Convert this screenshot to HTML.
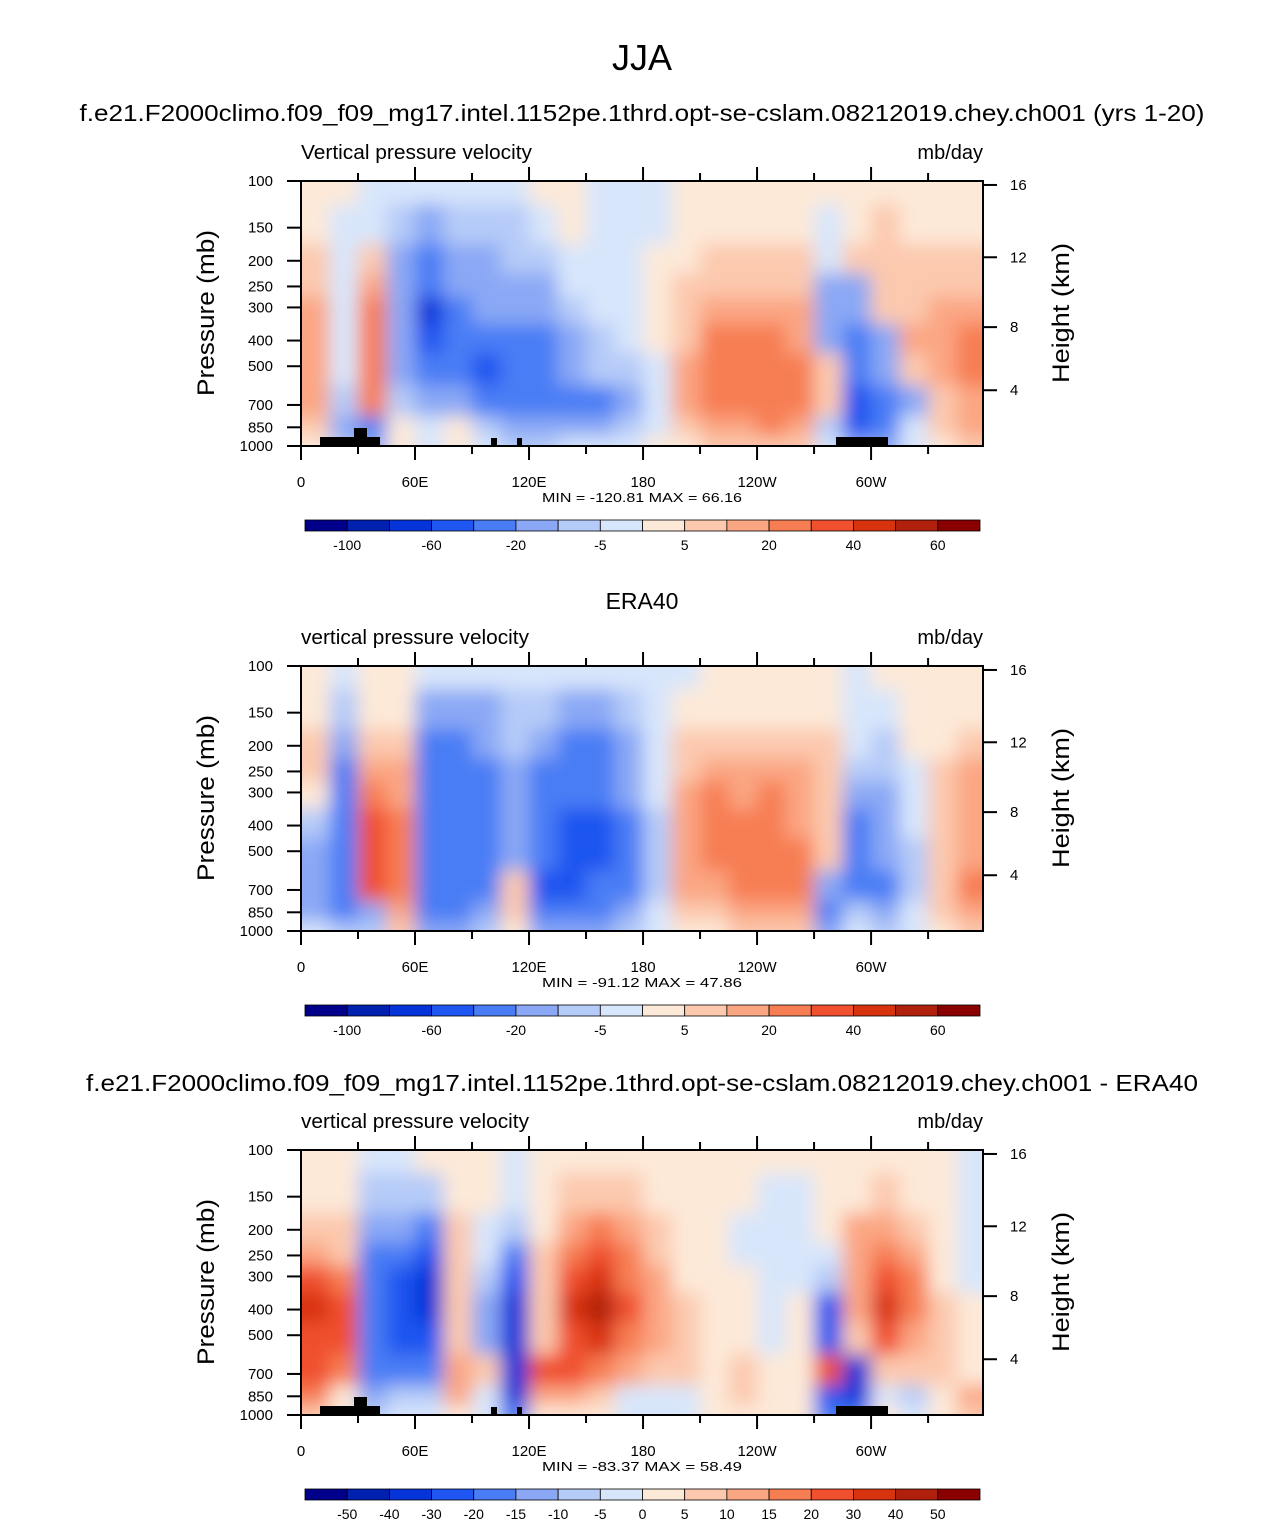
<!DOCTYPE html>
<html><head><meta charset="utf-8">
<style>
body{margin:0;background:#fff;}
svg text{font-family:"Liberation Sans",Arial,sans-serif;fill:#000;}
</style></head>
<body>
<svg id="fig" width="1285" height="1525" viewBox="0 0 1285 1525" xmlns="http://www.w3.org/2000/svg">
<defs>
<filter id="soft" x="-5%" y="-5%" width="110%" height="110%"><feGaussianBlur stdDeviation="9"/></filter>
</defs>
<text x="642" y="70" font-size="36" text-anchor="middle">JJA</text>
</svg>
<script>
const levels=[100,150,200,250,300,400,500,700,850,1000];
const lons=[0,15,30,45,60,75,90,105,120,135,150,165,180,195,210,225,240,255,270,285,300,315,330,345];
const lonTicks=[0,60,120,180,240,300];
const lonTickLabels=["0","60E","120E","180","120W","60W"];
const heightKm=[16,12,8,4];
const heightP=[103.5,194,356,616];
const colors=["#00008a","#0020b0","#0535d8","#1f55f0","#4a7df5","#8aa8f5","#b5cbf8","#d8e6fb","#fde9d8","#fcc9ae","#fba683","#f77e53","#f0502e","#d8330f","#b0200c","#8a0000"];
const bounds1=[-100,-80,-60,-40,-20,-10,-5,0,5,10,20,30,40,50,60];
const bounds3=[-50,-40,-30,-20,-15,-10,-5,0,5,10,15,20,30,40,50];
const cbLabels1=["-100","","-60","","-20","","-5","","5","","20","","40","","60"];
const cbLabels3=["-50","-40","-30","-20","-15","-10","-5","0","5","10","15","20","30","40","50"];

const model=[
[5,5,-5,-5,-5,-5,-5,-5,0,0,-5,-5,-5,5,5,5,5,5,5,5,5,5,5,0],
[5,-5,-5,-10,-20,-10,-10,-10,-5,0,-5,-5,-5,5,5,5,5,5,-5,5,10,5,5,5],
[10,-5,10,-20,-40,-20,-20,-10,-10,-5,-5,-5,0,5,10,10,10,10,-5,10,10,10,10,10],
[10,-5,20,-20,-40,-20,-20,-20,-20,-5,-5,-5,0,10,10,10,10,10,-20,-20,10,10,10,10],
[20,-5,30,-20,-80,-40,-20,-20,-20,-10,-5,-5,0,10,20,20,20,20,-20,-20,10,10,20,20],
[20,-5,30,-20,-60,-40,-40,-40,-40,-20,-10,-5,0,10,30,30,30,20,-20,-40,-20,20,20,30],
[20,-5,30,-20,-40,-40,-60,-40,-40,-20,-10,-10,-5,20,30,30,30,30,10,-40,-20,10,20,30],
[20,-10,30,-10,-20,-20,-40,-40,-40,-40,-40,-20,-5,20,30,30,30,30,10,-60,-40,-20,10,20],
[10,-20,-30,5,-5,5,-10,-20,-20,-20,-20,-10,-5,10,20,20,30,20,-10,-60,-40,-5,10,20],
[5,-10,-20,5,-5,5,-5,-10,-10,-5,-5,-5,0,5,10,10,10,10,-5,-20,-20,-5,5,10]];
const era=[
[5,-5,5,5,-5,-5,-5,-5,-5,-5,-5,-5,-5,-5,5,5,5,5,5,-5,5,5,5,5],
[5,-10,5,5,-20,-20,-20,-10,-10,-20,-20,-10,-5,5,5,5,5,5,5,-5,-5,5,5,5],
[10,-20,10,10,-40,-40,-20,-10,-20,-40,-40,-20,-5,10,10,10,10,10,10,-5,-10,5,5,10],
[10,-40,20,20,-40,-40,-40,-20,-40,-40,-40,-20,-5,10,20,20,20,20,10,-10,-10,-5,10,20],
[5,-40,30,20,-40,-40,-40,-20,-40,-40,-40,-20,-5,20,30,20,30,20,10,-20,-20,-5,10,20],
[-10,-40,40,30,-40,-40,-40,-20,-40,-60,-60,-40,-10,20,30,30,30,20,10,-40,-20,-5,10,20],
[-20,-40,40,30,-40,-40,-40,-20,-40,-60,-60,-40,-10,20,30,30,30,30,10,-40,-20,-10,10,20],
[-20,-40,40,30,-40,-40,-40,10,-60,-60,-40,-40,-10,20,20,30,30,30,-20,-40,-40,-10,10,30],
[-20,-40,-20,20,-40,-40,-20,10,-40,-40,-40,-20,-5,10,10,20,20,20,-40,-10,-20,-5,10,20],
[-5,-10,-10,10,-20,-20,-10,5,-20,-20,-20,-10,-5,5,5,10,10,10,-20,-5,-10,-5,5,10]];
const diff=[
[5,5,-5,-5,5,5,5,-5,5,5,5,5,5,5,5,5,5,5,5,5,5,5,5,-5],
[5,5,-10,-10,-10,5,5,-5,5,10,10,10,5,5,5,5,-5,-5,5,5,10,5,5,-5],
[10,10,-15,-15,-20,10,-5,-10,5,15,20,15,10,5,5,-5,-5,-5,5,15,15,10,5,-5],
[15,10,-20,-20,-30,10,-5,-20,10,20,30,20,10,5,5,-5,-5,-5,-5,15,20,15,5,-5],
[30,20,-20,-30,-40,10,-10,-30,10,30,40,20,15,5,5,5,-5,-5,-10,15,30,20,5,-5],
[40,30,-20,-30,-40,10,-15,-40,10,40,50,30,15,10,5,5,-5,5,-30,15,40,20,10,5],
[30,30,-20,-30,-30,10,-15,-40,10,30,40,20,15,10,5,5,-5,5,-30,10,30,15,10,5],
[30,20,-20,-20,-20,15,10,-40,30,30,20,15,10,10,5,10,5,5,30,-40,10,10,10,5],
[20,5,-15,-10,-10,15,-5,-40,15,15,10,-5,-5,-5,5,10,5,5,-30,-40,-5,-10,5,15],
[10,5,-10,-5,-5,5,-5,-20,5,5,5,-5,-5,-5,5,5,5,5,-20,-20,5,-5,5,10]];

const NS="http://www.w3.org/2000/svg";
const svg=document.getElementById('fig');
const X0=301,X1=983,PH=265;
function xOf(lon){return X0+lon*(X1-X0)/358.9;}
function mk(tag,attrs,parent){const e=document.createElementNS(NS,tag);for(const k in attrs)e.setAttribute(k,attrs[k]);(parent||svg).appendChild(e);return e;}
function txt(s,x,y,size,anchor,parent){const t=mk('text',{x:x,y:y,'font-size':size,'text-anchor':anchor||'start'},parent);t.textContent=s;return t;}
function fit(t,len){t.setAttribute('textLength',len);t.setAttribute('lengthAdjust','spacingAndGlyphs');}
function colorFor(v,b){let i=0;if(v<0){for(const q of b)if(q<=v)i++;}else{i=8;for(const q of b)if(q>0&&q<v)i++;}return colors[Math.min(i,15)];}

function panel(top,data,bounds,cbLab,labelLeft,minmax,topo,id){
  const yOf=p=>top+PH*Math.log10(p/100);
  const g=mk('g',{});
  
  
  const clip=mk('clipPath',{id:'clip'+id},g);
  mk('rect',{x:X0,y:top,width:X1-X0,height:PH},clip);
  const cg=mk('g',{'clip-path':'url(#clip'+id+')'},g);
  const fg=mk('g',{filter:'url(#soft)'},cg);
  for(let r=0;r<levels.length;r++){
    const yA=r==0?top-20:yOf(Math.sqrt(levels[r-1]*levels[r]));
    const yB=r==levels.length-1?top+PH+20:yOf(Math.sqrt(levels[r]*levels[r+1]));
    for(let c=0;c<lons.length;c++){
      const xa=c==0?X0-20:xOf(lons[c]);
      const xb=c==lons.length-1?X1+20:xOf(lons[c]+15);
      const rc=mk('rect',{x:xa,y:yA,width:xb-xa+0.5,height:yB-yA+0.5,fill:colorFor(data[r][c],bounds)},fg);
      
      
    }
  }
  if(topo){
    const bl=[[320,437,60,9],[354,428,13,18],[491,438,6,8],[517,438,5,8],[836,437,52,9]];
    bl.forEach(b=>{const r=mk('rect',{x:b[0],y:top+(b[1]-181),width:b[2],height:b[3],fill:'#000'},g);
      });
  }
  const fr=mk('rect',{x:X0,y:top,width:X1-X0,height:PH,fill:'none',stroke:'#000','stroke-width':2},g);
  
  for(let lon=0;lon<360;lon+=30){
    const x=xOf(lon),L=lon%60==0?14:8;
    mk('line',{x1:x,y1:top+PH,x2:x,y2:top+PH+L,stroke:'#000','stroke-width':2},g);
    if(lon>0)mk('line',{x1:x,y1:top,x2:x,y2:top-L,stroke:'#000','stroke-width':2},g);
  }
  lonTicks.forEach((l,i)=>{const t=txt(lonTickLabels[i],xOf(l),top+PH+41,15,'middle',g);
    });
  levels.forEach(p=>{const y=yOf(p);mk('line',{x1:X0-14,y1:y,x2:X0,y2:y,stroke:'#000','stroke-width':2},g);
    const t=txt(String(p),X0-28,y+5,15,'end',g);});
  heightKm.forEach((h,i)=>{const y=yOf(heightP[i]);mk('line',{x1:X1,y1:y,x2:X1+14,y2:y,stroke:'#000','stroke-width':2},g);
    const t=txt(String(h),X1+27,y+5,15,'start',g);});
  let t=txt('Pressure (mb)',0,0,24,'middle',g);t.setAttribute('transform','translate(214,'+(top+132)+') rotate(-90)');
  fit(t,166);
  
  t=txt('Height (km)',0,0,24,'middle',g);t.setAttribute('transform','translate(1069,'+(top+132)+') rotate(-90)');
  fit(t,140);
  
  t=txt(labelLeft,X0,top-22,20,'start',g);
  fit(t,labelLeft[0]=='V'?231:228);
  t=txt('mb/day',X1,top-22,20,'end',g);
  t=txt(minmax,642,top+321,13,'middle',g);
  fit(t,200);
  const cy=top+339,cw=(980-305)/16;
  for(let i=0;i<16;i++){const r=mk('rect',{x:305+i*cw,y:cy,width:cw,height:11,fill:colors[i],stroke:'#000','stroke-width':0.8},g);
    }
  cbLab.forEach((s,i)=>{if(!s)return;const t=txt(s,305+(i+1)*cw,cy+30,14,'middle',g);
    });
}
let t=txt('f.e21.F2000climo.f09_f09_mg17.intel.1152pe.1thrd.opt-se-cslam.08212019.chey.ch001 (yrs 1-20)',642,121,23,'middle');
fit(t,1125);

t=txt('ERA40',642,609,23,'middle');
t=txt('f.e21.F2000climo.f09_f09_mg17.intel.1152pe.1thrd.opt-se-cslam.08212019.chey.ch001 - ERA40',642,1091,23,'middle');
fit(t,1112);

panel(181,model,bounds1,cbLabels1,'Vertical pressure velocity','MIN = -120.81   MAX =  66.16',true,'model');
panel(666,era,bounds1,cbLabels1,'vertical pressure velocity','MIN = -91.12   MAX =  47.86',false,'era');
panel(1150,diff,bounds3,cbLabels3,'vertical pressure velocity','MIN = -83.37   MAX =  58.49',true,'diff');
</script>
</body></html>
